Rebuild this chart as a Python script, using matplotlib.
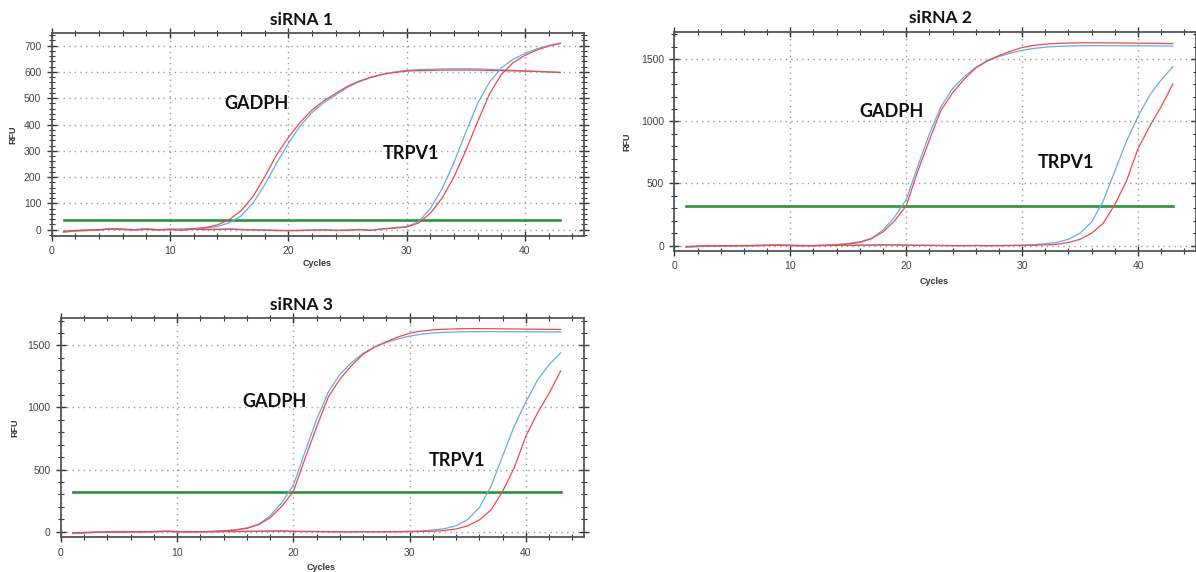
import matplotlib
matplotlib.use("Agg")
import matplotlib.pyplot as plt
from matplotlib.ticker import MultipleLocator

cycles = list(range(1, 44))

# siRNA 1
p1_gadph_red = [-8,-4,-3,-1,3,1,0,2,0,2,1,4,8,18,38,72,125,200,284,350,408,455,490,518,545,565,580,591,598,603,605,606,607,607,607,607,606,605,604,603,602,600,598]
p1_gadph_blue = [-10,-5,-3,-1,4,1,0,3,0,1,2,3,6,12,26,52,100,170,252,328,394,445,483,512,541,563,579,591,600,606,609,610,611,612,612,611,610,608,606,604,602,600,598]
p1_trpv1_red = [-6,-3,-2,0,3,1,-1,1,-1,0,-2,2,0,1,2,0,-1,-2,-3,-4,-3,-2,-1,-3,-2,0,-2,3,6,10,25,62,120,200,300,410,515,590,635,663,683,698,708]
p1_trpv1_blue = [-7,-3,-1,0,4,2,0,2,0,1,-1,3,1,2,3,1,0,-1,-2,-3,-2,-1,0,-2,-1,1,-3,3,8,12,30,80,155,255,370,480,560,615,648,670,688,700,710]
p1_threshold = 35

# siRNA 2
p2_gadph_red = [-10,-6,-4,-3,-2,-1,0,2,5,0,-2,-1,2,5,12,25,55,110,200,320,600,850,1090,1230,1340,1430,1490,1530,1565,1595,1612,1622,1628,1631,1633,1633,1632,1632,1631,1630,1629,1628,1626]
p2_gadph_blue = [-12,-8,-5,-3,-2,-1,0,1,2,0,-1,0,3,8,18,30,58,125,230,370,640,900,1120,1265,1360,1435,1485,1522,1550,1572,1588,1598,1604,1607,1609,1610,1610,1610,1609,1609,1608,1608,1607]
p2_trpv1_red = [-8,-5,-3,-2,-1,0,0,1,2,1,0,-1,0,1,2,3,4,6,5,3,2,1,0,-1,-1,0,-1,-1,0,1,2,5,10,25,50,100,180,330,520,780,960,1120,1300]
p2_trpv1_blue = [-12,-8,-5,-3,-2,-1,0,1,2,1,0,-1,0,1,1,2,3,4,4,3,2,1,0,-1,-1,0,-1,0,1,3,6,15,25,50,100,190,360,600,840,1040,1210,1335,1440]
p2_threshold = 320

# siRNA 3
p3_gadph_red = [-12,-7,-5,-4,-3,-2,-1,1,4,1,-1,0,2,6,13,27,57,112,205,325,590,845,1085,1228,1338,1428,1488,1530,1568,1598,1615,1625,1630,1633,1635,1635,1634,1633,1632,1631,1630,1629,1628]
p3_gadph_blue = [-15,-9,-6,-4,-3,-2,-1,0,2,0,-1,0,3,8,17,31,60,128,235,375,645,905,1125,1268,1362,1437,1487,1524,1552,1575,1590,1600,1605,1608,1610,1611,1611,1610,1610,1609,1609,1608,1608]
p3_trpv1_red = [-10,-6,-4,-2,-1,0,0,1,2,1,0,-1,0,1,2,3,4,6,6,3,2,1,0,-1,-1,0,-1,-1,0,1,2,4,10,22,48,95,175,325,515,770,955,1115,1295]
p3_trpv1_blue = [-14,-9,-5,-3,-2,-1,0,1,3,1,0,-1,0,1,1,2,3,4,5,3,2,1,0,-1,-1,0,-1,0,1,3,6,14,24,48,98,195,365,610,850,1045,1220,1345,1440]
p3_threshold = 320

titles = ["siRNA 1", "siRNA 2", "siRNA 3"]
gene_labels = ["GADPH", "TRPV1"]

RED = "#f0494a"
BLUE = "#62aee6"
GREEN = "#2f8f3c"

fig = plt.figure(figsize=(11.96, 5.72), dpi=100)

panels = [
    dict(rect=[51.7, 33, 584, 236], ylim=(-24, 748), ymaj=100, ymin=20,
         data=(p1_gadph_blue, p1_gadph_red, p1_trpv1_blue, p1_trpv1_red), thr=p1_threshold,
         title=titles[0], title_xy=(302, 20), rfu_x=13, cyc_y=264,
         lab_g=(17.3, 480), lab_t=(30.4, 288)),
    dict(rect=[674.4, 32, 1196, 251], ylim=(-44, 1720), ymaj=500, ymin=100,
         data=(p2_gadph_blue, p2_gadph_red, p2_trpv1_blue, p2_trpv1_red), thr=p2_threshold,
         title=titles[1], title_xy=(940, 18), rfu_x=627, cyc_y=282,
         lab_g=(18.7, 1083), lab_t=(33.8, 667)),
    dict(rect=[61, 318.3, 584, 537.3], ylim=(-45, 1718), ymaj=500, ymin=100,
         data=(p3_gadph_blue, p3_gadph_red, p3_trpv1_blue, p3_trpv1_red), thr=p3_threshold,
         title=titles[2], title_xy=(302, 305), rfu_x=15, cyc_y=567,
         lab_g=(18.4, 1045), lab_t=(34.1, 576)),
]

W, H = 1196.0, 572.0
for p in panels:
    l, t, r, b = p["rect"]
    ax = fig.add_axes([l / W, (H - b) / H, (r - l) / W, (b - t) / H])
    gb, gr, tb, tr = p["data"]
    ax.plot(cycles, gb, color=BLUE, lw=0.9, zorder=3)
    ax.plot(cycles, gr, color=RED, lw=0.9, zorder=3)
    ax.plot(cycles, tb, color=BLUE, lw=0.9, zorder=3)
    ax.plot(cycles, tr, color=RED, lw=0.9, zorder=3)
    ax.plot([cycles[0], cycles[-1]], [p["thr"], p["thr"]], color=GREEN, lw=1.9, zorder=2)
    ax.set_xlim(0, 45)
    ax.set_ylim(*p["ylim"])
    ax.xaxis.set_major_locator(MultipleLocator(10))
    ax.xaxis.set_minor_locator(MultipleLocator(2))
    ax.yaxis.set_major_locator(MultipleLocator(p["ymaj"]))
    ax.yaxis.set_minor_locator(MultipleLocator(p["ymin"]))
    ax.grid(True, which="major", linestyle=(0, (1, 3)), color="#9a9a9a", lw=1.0)
    ax.tick_params(which="both", direction="inout", top=True, right=True,
                   colors="#333333", labelsize=7.5, labelcolor="#444444")
    ax.tick_params(which="major", length=7, width=1.0, pad=4)
    ax.tick_params(which="minor", length=4, width=0.8)
    for lab in ax.get_xticklabels() + ax.get_yticklabels():
        lab.set_family(["Liberation Sans", "DejaVu Sans"])
    for s in ax.spines.values():
        s.set_color("#555555")
        s.set_linewidth(1.3)
    ax.set_axisbelow(True)
    ax.text(p["lab_g"][0], p["lab_g"][1], gene_labels[0], ha="center", va="center",
            fontsize=13, fontweight="bold", family=["Lato", "DejaVu Sans"], color="#111111")
    ax.text(p["lab_t"][0], p["lab_t"][1], gene_labels[1], ha="center", va="center",
            fontsize=13, fontweight="bold", family=["Lato", "DejaVu Sans"], color="#111111")
    fig.text(p["title_xy"][0] / W, 1 - p["title_xy"][1] / H, p["title"], ha="center", va="center",
             fontsize=12.5, fontweight="bold", family=["Lato", "DejaVu Sans"], color="#111111")
    fig.text(p["rfu_x"] / W, 1 - ((t + b) / 2) / H, "RFU", rotation=90, ha="center", va="center",
             fontsize=6.5, fontweight="bold", family=["Liberation Sans", "DejaVu Sans"], color="#333333")
    fig.text(((l + min(r, 1196)) / 2 - 1) / W, 1 - p["cyc_y"] / H, "Cycles", ha="center", va="center",
             fontsize=6.5, fontweight="bold", family=["Liberation Sans", "DejaVu Sans"], color="#333333")

fig.savefig("out.png", dpi=100, facecolor="white")
